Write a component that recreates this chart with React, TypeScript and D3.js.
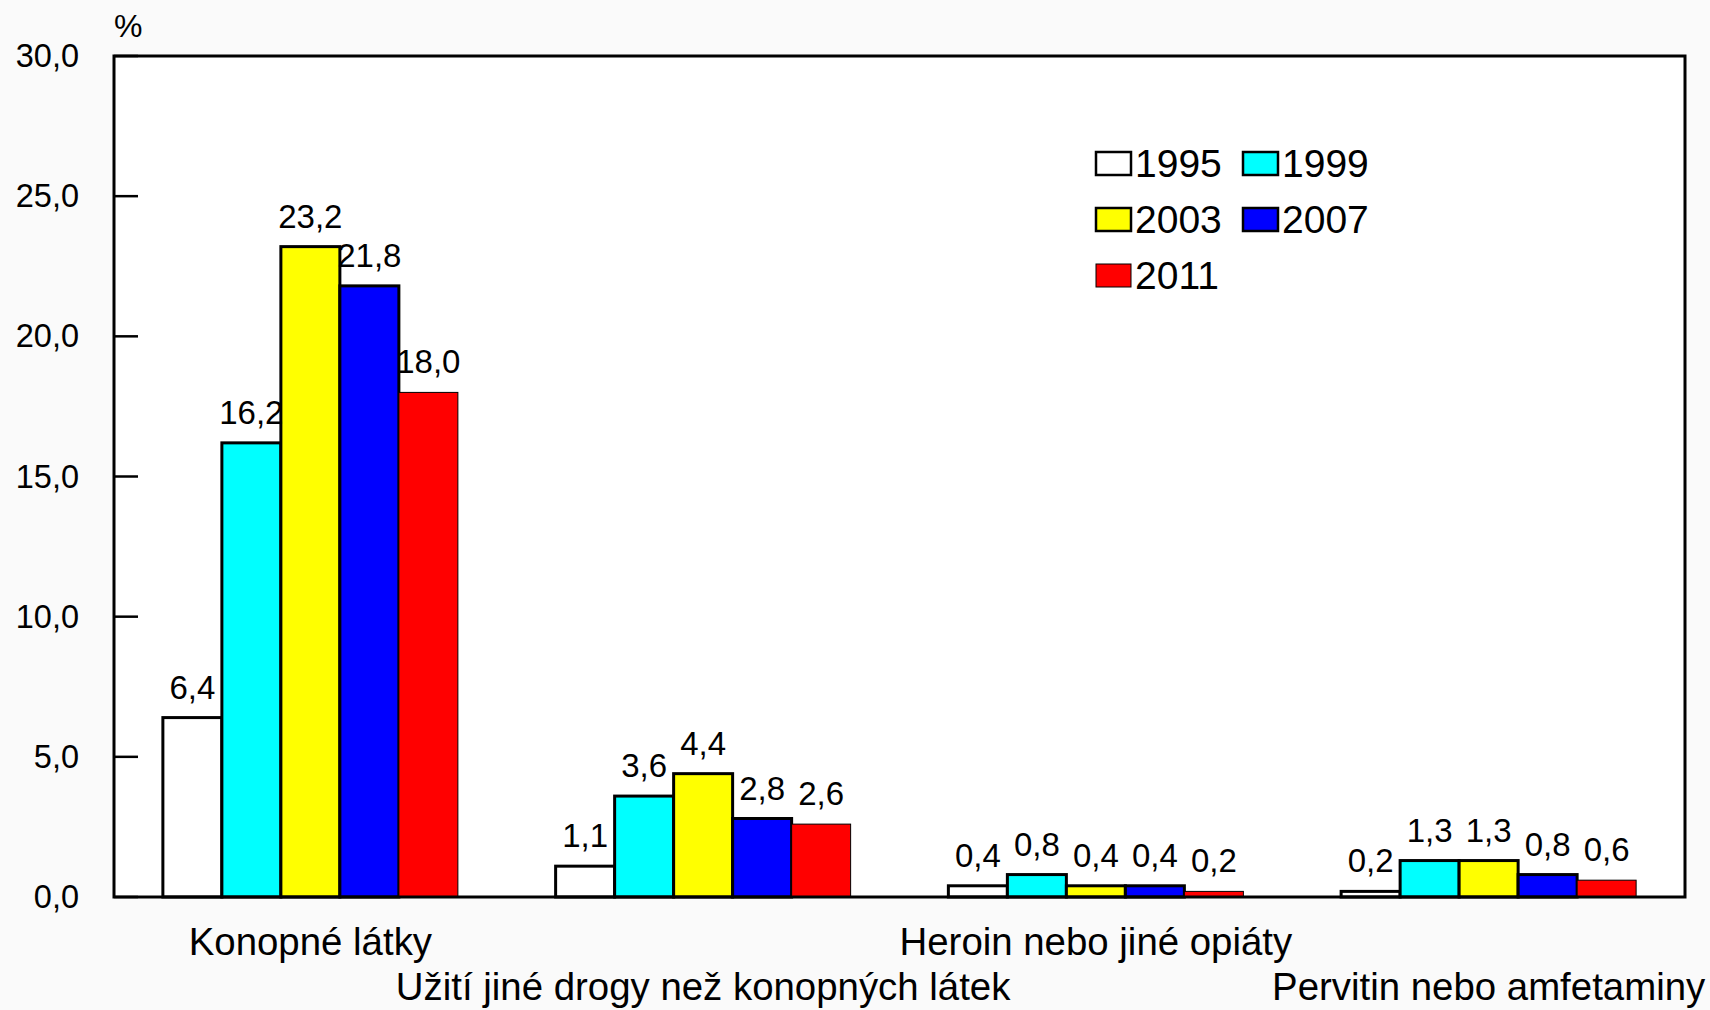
import React from "react";
import * as d3 from "d3";

const categories = [
  "Konopné látky",
  "Užití jiné drogy než konopných látek",
  "Heroin nebo jiné opiáty",
  "Pervitin nebo amfetaminy",
];
const years = ["1995", "1999", "2003", "2007", "2011"];
const colors = ["#ffffff", "#00ffff", "#ffff00", "#0000ff", "#ff0000"];
const values1995 = [6.4, 1.1, 0.4, 0.2];
const values1999 = [16.2, 3.6, 0.8, 1.3];
const values2003 = [23.2, 4.4, 0.4, 1.3];
const values2007 = [21.8, 2.8, 0.4, 0.8];
const values2011 = [18.0, 2.6, 0.2, 0.6];
const seriesValues = [values1995, values1999, values2003, values2007, values2011];
const yTicks = [0, 5, 10, 15, 20, 25, 30];

const W = 1710;
const H = 1010;
const left = 114;
const right = 1685;
const top = 56;
const bottom = 897;
const FONT = "'Liberation Sans', Arial, sans-serif";

const fmt = (v: number) => v.toFixed(1).replace(".", ",");

export default function App() {
  const y = d3.scaleLinear().domain([0, 30]).range([bottom, top]);
  const x0 = d3.scaleBand<string>().domain(categories).range([left, right]).padding(0);
  const bw = x0.bandwidth();
  const barW = 59;
  const pad = (bw - barW * years.length) / 2;
  const x1 = d3.scaleBand<string>().domain(years).range([pad, bw - pad]).padding(0);

  const legendItems = [
    { i: 0, x: 1096, y: 152 },
    { i: 1, x: 1243, y: 152 },
    { i: 2, x: 1096, y: 208 },
    { i: 3, x: 1243, y: 208 },
    { i: 4, x: 1096, y: 264 },
  ];

  return (
    <svg
      width={W}
      height={H}
      style={{ position: "absolute", left: 0, top: 0, display: "block" }}
      fontFamily={FONT}
    >
      <rect x={0} y={0} width={W} height={H} fill="#fafafa" />
      <rect x={left} y={top} width={right - left} height={bottom - top} fill="#ffffff" />

      {/* y ticks */}
      {yTicks.map((t) => (
        <g key={t}>
          <line x1={left} x2={left + 24} y1={y(t)} y2={y(t)} stroke="#000" strokeWidth={2.5} />
          <text x={79} y={y(t) + 11} textAnchor="end" fontSize={32.5} fill="#000">
            {fmt(t)}
          </text>
        </g>
      ))}
      <text x={114} y={37} fontSize={32} fill="#000">%</text>

      {/* bars */}
      {categories.map((c, ci) => (
        <g key={c} transform={`translate(${x0(c)},0)`}>
          {years.map((yr, si) => {
            const v = seriesValues[si][ci];
            const bx = x1(yr) as number;
            return (
              <rect
                key={yr}
                x={bx}
                y={y(v)}
                width={x1.bandwidth()}
                height={bottom - y(v)}
                fill={colors[si]}
                stroke="#000"
                strokeWidth={si === 4 ? 1 : 3}
              />
            );
          })}
          {years.map((yr, si) => {
            const v = seriesValues[si][ci];
            const bx = x1(yr) as number;
            return (
              <text
                key={"l" + yr}
                x={bx + x1.bandwidth() / 2}
                y={y(v) - 19}
                textAnchor="middle"
                fontSize={33}
                fill="#000"
              >
                {fmt(v)}
              </text>
            );
          })}
        </g>
      ))}

      {/* frame */}
      <rect
        x={left}
        y={top}
        width={right - left}
        height={bottom - top}
        fill="none"
        stroke="#000"
        strokeWidth={3}
      />

      {/* category labels */}
      {categories.map((c, ci) => (
        <text
          key={c}
          x={(x0(c) as number) + bw / 2}
          y={ci % 2 === 0 ? 955 : 1000}
          textAnchor="middle"
          fontSize={38.4}
          fill="#000"
        >
          {c}
        </text>
      ))}

      {/* legend */}
      {legendItems.map((it) => (
        <g key={years[it.i]}>
          <rect
            x={it.x}
            y={it.y}
            width={35}
            height={23}
            fill={colors[it.i]}
            stroke="#000"
            strokeWidth={it.i === 4 ? 1 : 2.5}
          />
          <text x={it.x + 39} y={it.y + 25} fontSize={39} fill="#000">
            {years[it.i]}
          </text>
        </g>
      ))}
    </svg>
  );
}
